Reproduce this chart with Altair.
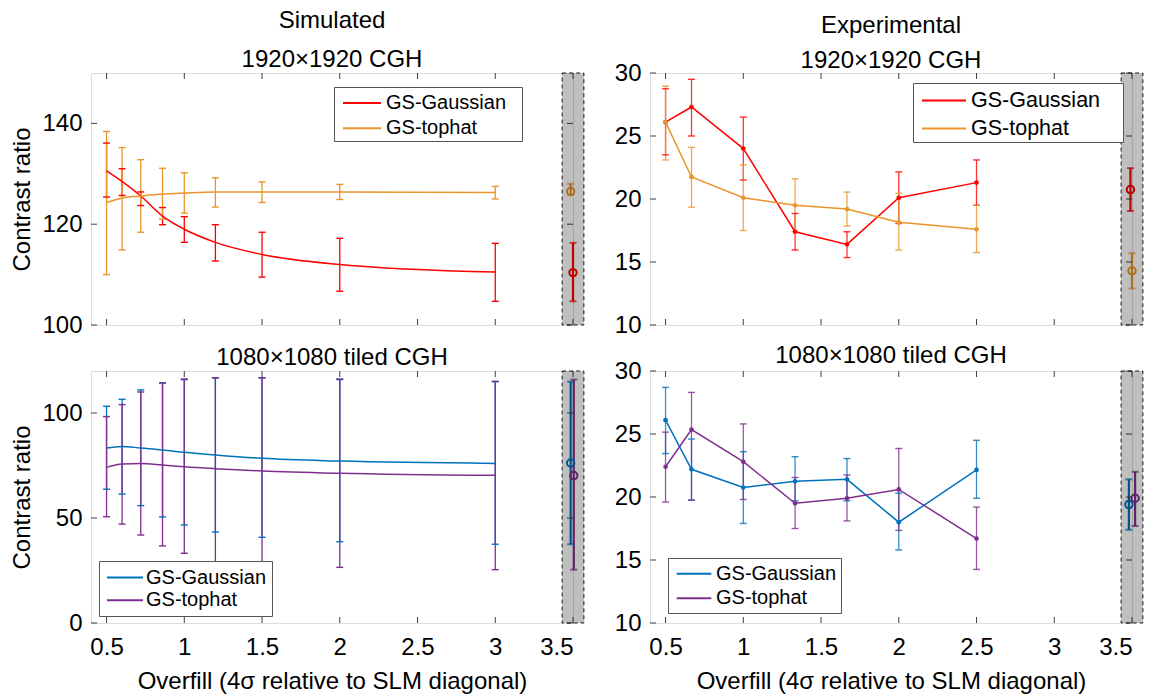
import altair as alt
import pandas as pd

FONT = "Liberation Sans"
FRAME = "#404040"
W, H = 482, 252

series = ["GS-Gaussian", "GS-tophat"]
x_ticks = [0.5, 1, 1.5, 2, 2.5, 3, 3.5]
band_span = [3.43, 3.57]

# ---------------- Simulated 1920x1920 ----------------
x_sim = [0.5, 0.6, 0.72, 0.86, 1.0, 1.2, 1.5, 2.0, 3.0]
s1920_g = [130.6, 128.5, 125.6, 121.6, 119.0, 116.4, 114.0, 112.0, 110.5]
s1920_g_hi = [136.1, 131.0, 126.4, 123.3, 121.5, 119.9, 118.4, 117.2, 116.2]
s1920_g_lo = [125.4, 125.7, 123.7, 119.9, 116.4, 112.7, 109.5, 106.7, 104.7]
s1920_t = [124.3, 125.2, 125.6, 126.0, 126.2, 126.4, 126.4, 126.4, 126.3]
s1920_t_hi = [138.4, 135.2, 132.8, 131.1, 130.2, 129.2, 128.4, 127.9, 127.5]
s1920_t_lo = [110.0, 114.9, 118.4, 121.0, 122.2, 123.4, 124.3, 124.9, 125.0]
s1920_ref_x = [3.50, 3.485]
s1920_ref = [110.4, 126.5]
s1920_ref_lo = [104.7, 125.8]
s1920_ref_hi = [116.3, 128.0]

# ---------------- Simulated 1080x1080 tiled ----------------
s1080_g = [83.3, 84.1, 83.3, 82.4, 81.3, 80.0, 78.4, 77.1, 76.0]
s1080_g_hi = [103.2, 106.5, 111.0, 114.3, 115.9, 116.7, 116.7, 115.9, 114.9]
s1080_g_lo = [63.7, 61.4, 55.9, 50.5, 46.7, 43.3, 40.8, 38.7, 37.5]
s1080_t = [74.1, 75.7, 75.9, 75.2, 74.4, 73.5, 72.4, 71.3, 70.3]
s1080_t_hi = [98.3, 104.0, 110.0, 114.3, 116.2, 116.8, 116.8, 116.2, 115.1]
s1080_t_lo = [50.6, 47.1, 41.9, 36.7, 33.2, 28.5, 27.5, 26.5, 25.4]
s1080_ref_x = [3.485, 3.505]
s1080_ref = [76.2, 70.2]
s1080_ref_lo = [37.5, 25.4]
s1080_ref_hi = [114.9, 115.9]

# ---------------- Experimental 1920x1920 ----------------
x_exp = [0.5, 0.667, 1.0, 1.333, 1.667, 2.0, 2.5]
e1920_g = [26.1, 27.3, 24.0, 17.4, 16.4, 20.1, 21.3]
e1920_g_hi = [28.75, 29.5, 26.5, 18.85, 17.4, 22.15, 23.1]
e1920_g_lo = [23.5, 25.0, 21.5, 15.95, 15.35, 18.05, 19.5]
e1920_t = [26.1, 21.75, 20.1, 19.5, 19.2, 18.15, 17.6]
e1920_t_hi = [28.95, 24.1, 22.7, 21.6, 20.55, 20.45, 19.5]
e1920_t_lo = [23.1, 19.35, 17.5, 17.4, 17.85, 15.95, 15.75]
e1920_ref_x = [3.49, 3.50]
e1920_ref = [20.75, 14.3]
e1920_ref_lo = [19.05, 12.9]
e1920_ref_hi = [22.45, 15.7]

# ---------------- Experimental 1080x1080 tiled ----------------
e1080_g = [26.1, 22.2, 20.75, 21.25, 21.4, 18.0, 22.15]
e1080_g_hi = [28.7, 24.6, 23.6, 23.2, 23.05, 20.3, 24.5]
e1080_g_lo = [23.45, 19.75, 17.9, 19.7, 19.7, 15.8, 19.9]
e1080_t = [22.4, 25.35, 22.8, 19.5, 19.9, 20.6, 16.7]
e1080_t_hi = [25.15, 28.3, 25.8, 21.55, 21.75, 23.85, 19.2]
e1080_t_lo = [19.6, 19.75, 19.8, 17.5, 18.1, 17.35, 14.25]
e1080_ref_x = [3.48, 3.52]
e1080_ref = [19.4, 19.9]
e1080_ref_lo = [17.4, 17.7]
e1080_ref_hi = [21.4, 22.0]

RED, ORANGE = "#FF0000", "#E9952B"
BLUE, PURPLE = "#0072BD", "#7E2F8E"


def panel(xs, g, glo, ghi, t, tlo, thi, rx, ry, rlo, rhi, colors, ydom, yticks,
          title, title_offset, line_h, leg, bottom, left, smooth):
    df = pd.DataFrame({
        "x": list(xs) * 2,
        "y": list(g) + list(t),
        "lo": list(glo) + list(tlo),
        "hi": list(ghi) + list(thi),
        "s": [series[0]] * len(xs) + [series[1]] * len(xs),
    })
    ref = pd.DataFrame({"x": rx, "y": ry, "lo": rlo, "hi": rhi, "s": series})
    band = pd.DataFrame({"x": [band_span[0]], "x2": [band_span[1]]})
    xt = pd.DataFrame({"x": x_ticks})
    yt = pd.DataFrame({"y": yticks})

    xaxis = alt.Axis(values=x_ticks, format="~g", labels=bottom, ticks=False,
                     domain=False, grid=False, labelFontSize=24, labelFont=FONT,
                     labelColor="black", labelPadding=12,
                     title="Overfill (4\u03c3 relative to SLM diagonal)" if bottom else None,
                     titleFontSize=24, titleFont=FONT, titleFontWeight="normal",
                     titleColor="black", titlePadding=10)
    yaxis = alt.Axis(values=yticks, format="d", ticks=False, domain=False, grid=False,
                     labelFontSize=24, labelFont=FONT, labelColor="black", labelPadding=9,
                     title="Contrast ratio" if left else None, titleFontSize=24,
                     titleFont=FONT, titleFontWeight="normal", titleColor="black",
                     titlePadding=7)
    xs_ = alt.Scale(domain=[0.4, 3.5], nice=False, zero=False)
    ys_ = alt.Scale(domain=ydom, nice=False, zero=False)
    r = leg["r"]
    k = leg["half"] / (r / 2.0)
    if leg["extra"]:
        # invisible right-side title only widens the legend box
        extra = dict(title="x", titleOrient="right", titleOpacity=0, titleFontSize=1,
                     titlePadding=leg["extra"])
    else:
        extra = dict(title=None)
    legend = alt.Legend(orient="none", legendX=leg["x"], legendY=leg["y"],
                        symbolType=f"M-{k:.3f},0H{k:.3f}", symbolSize=r * r,
                        symbolStrokeWidth=2, symbolOffset=leg["s"],
                        labelFontSize=leg["fs"], labelFont=FONT,
                        labelColor="black", labelOffset=leg["lo"], padding=leg["pad"],
                        rowPadding=leg["rp"], strokeColor="#555555", fillColor="white",
                        symbolOpacity=1, **extra)
    col = alt.Color("s:N", scale=alt.Scale(domain=series, range=colors), legend=legend)

    X = alt.X("x:Q", scale=xs_, axis=xaxis)
    Y = alt.Y("y:Q", scale=ys_, axis=yaxis)
    Ylo = alt.Y("lo:Q", scale=ys_, axis=yaxis)
    Yhi = alt.Y("hi:Q", scale=ys_, axis=yaxis)

    eb_op = 1.0 if smooth else 0.8
    base = alt.Chart(df)
    rules = base.mark_rule(strokeWidth=1.3, opacity=eb_op).encode(x=X, y=Ylo, y2="hi:Q", color=col)
    cap_lo = base.mark_tick(orient="horizontal", size=7, thickness=1.4, opacity=eb_op).encode(x=X, y=Ylo, color=col)
    cap_hi = base.mark_tick(orient="horizontal", size=7, thickness=1.4, opacity=eb_op).encode(x=X, y=Yhi, color=col)
    line = base.mark_line(strokeWidth=1.5, interpolate="monotone" if smooth else "linear").encode(
        x=X, y=Y, color=col)
    layers = [rules, cap_lo, cap_hi, line]
    if not smooth:
        layers.append(base.mark_circle(size=22, opacity=1).encode(x=X, y=Y, color=col))

    rbase = alt.Chart(ref)
    layers += [
        rbase.mark_rule(strokeWidth=2.2).encode(x=X, y=Ylo, y2="hi:Q", color=col),
        rbase.mark_tick(orient="horizontal", size=7, thickness=2).encode(x=X, y=Ylo, color=col),
        rbase.mark_tick(orient="horizontal", size=7, thickness=2).encode(x=X, y=Yhi, color=col),
        rbase.mark_point(shape="circle", filled=False, size=55, strokeWidth=2, opacity=1).encode(
            x=X, y=Y, color=col),
    ]
    # inward ticks (box style)
    layers += [
        alt.Chart(xt).mark_rule(color=FRAME, strokeWidth=1).encode(
            x=X, y=alt.value(H), y2=alt.value(H - 6)),
        alt.Chart(xt).mark_rule(color=FRAME, strokeWidth=1).encode(
            x=X, y=alt.value(0), y2=alt.value(6)),
        alt.Chart(yt).mark_rule(color=FRAME, strokeWidth=1).encode(
            y=Y, x=alt.value(0), x2=alt.value(6)),
        alt.Chart(yt).mark_rule(color=FRAME, strokeWidth=1).encode(
            y=Y, x=alt.value(W), x2=alt.value(W - 6)),
    ]
    # shaded reference band
    layers.append(
        alt.Chart(band).mark_rect(fill="black", fillOpacity=0.25, stroke="black",
                                  strokeWidth=1, strokeDash=[4, 3], strokeOpacity=0.9).encode(
            x=X, x2="x2:Q", y=alt.value(0), y2=alt.value(H))
    )
    return alt.layer(*layers).properties(
        width=W, height=H,
        title=alt.TitleParams(title, fontSize=24, font=FONT, fontWeight="normal",
                              color="black", offset=title_offset, lineHeight=line_h),
    )


tl = panel(x_sim, s1920_g, s1920_g_lo, s1920_g_hi, s1920_t, s1920_t_lo, s1920_t_hi,
           s1920_ref_x, s1920_ref, s1920_ref_lo, s1920_ref_hi, [RED, ORANGE],
           [100, 150], [100, 120, 140], ["Simulated", "1920\u00d71920 CGH"], 1, 39,
           {"x": 243, "y": 14, "fs": 20, "r": 26, "half": 19, "pad": 2, "rp": 1.3,
            "s": 12, "lo": 10, "extra": 13},
           bottom=False, left=True, smooth=True)
bl = panel(x_sim, s1080_g, s1080_g_lo, s1080_g_hi, s1080_t, s1080_t_lo, s1080_t_hi,
           s1080_ref_x, s1080_ref, s1080_ref_lo, s1080_ref_hi, [BLUE, PURPLE],
           [0, 120], [0, 50, 100], "1080\u00d71080 tiled CGH", 1, 39,
           {"x": 8, "y": 190, "fs": 20, "r": 20, "half": 18, "pad": 5.6, "rp": 1.7,
            "s": 9.4, "lo": 10, "extra": 0},
           bottom=True, left=True, smooth=True)
tr = panel(x_exp, e1920_g, e1920_g_lo, e1920_g_hi, e1920_t, e1920_t_lo, e1920_t_hi,
           e1920_ref_x, e1920_ref, e1920_ref_lo, e1920_ref_hi, [RED, ORANGE],
           [10, 30], [10, 15, 20, 25, 30], ["Experimental", "1920\u00d71920 CGH"], -12, 35,
           {"x": 263, "y": 10, "fs": 21.5, "r": 28, "half": 22, "pad": 2.5, "rp": 2,
            "s": 13.5, "lo": 12, "extra": 19},
           bottom=False, left=False, smooth=False)
br = panel(x_exp, e1080_g, e1080_g_lo, e1080_g_hi, e1080_t, e1080_t_lo, e1080_t_hi,
           e1080_ref_x, e1080_ref, e1080_ref_lo, e1080_ref_hi, [BLUE, PURPLE],
           [10, 30], [10, 15, 20, 25, 30], "1080\u00d71080 tiled CGH", -9, 39,
           {"x": 18, "y": 187, "fs": 20, "r": 21, "half": 17.3, "pad": 4.3, "rp": 2.4,
            "s": 10.2, "lo": 10.5, "extra": 0},
           bottom=True, left=False, smooth=False)

chart = alt.concat(tl, tr, bl, br, columns=2, bounds="flush",
                   spacing=alt.RowColnumber(row=46, column=77)).resolve_scale(
    color="independent", x="independent", y="independent"
).resolve_legend(color="independent").properties(
    padding={"left": 2, "top": 0, "right": 0, "bottom": 0}
).configure_view(
    stroke=FRAME, strokeWidth=1
).configure(background="white")

chart.save("out.html", embed_options={"renderer": "svg", "actions": False})
